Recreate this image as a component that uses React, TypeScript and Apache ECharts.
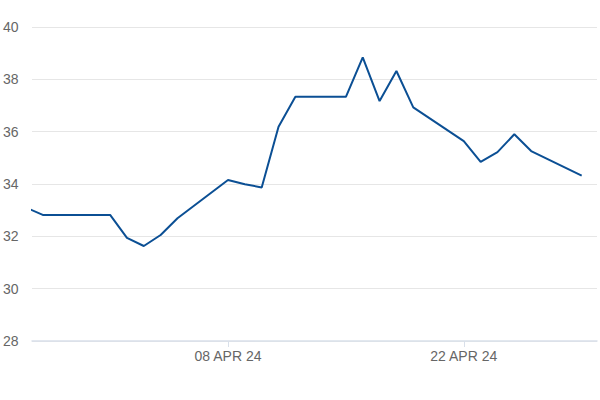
import React, { useEffect, useRef } from "react";
import * as echarts from "echarts";

const dates: [number, number, number][] = [
  [2024, 3, 27], [2024, 3, 28], [2024, 4, 1], [2024, 4, 2], [2024, 4, 3], [2024, 4, 4], [2024, 4, 5],
  [2024, 4, 8], [2024, 4, 9], [2024, 4, 10], [2024, 4, 11], [2024, 4, 12],
  [2024, 4, 15], [2024, 4, 16], [2024, 4, 17], [2024, 4, 18], [2024, 4, 19],
  [2024, 4, 22], [2024, 4, 23], [2024, 4, 24], [2024, 4, 25], [2024, 4, 26],
  [2024, 4, 29],
];
const values = [
  33.1, 32.82, 32.82, 31.94, 31.63, 32.05, 32.69,
  34.15, 33.99, 33.87, 36.19, 37.33,
  37.33, 38.84, 37.17, 38.32, 36.93,
  35.64, 34.85, 35.22, 35.9, 35.26,
  34.32,
];
const tickDates: [number, number, number][] = [[2024, 4, 8], [2024, 4, 22]];
const MONTHS = ["JAN", "FEB", "MAR", "APR", "MAY", "JUN", "JUL", "AUG", "SEP", "OCT", "NOV", "DEC"];

const ts = (d: [number, number, number], h = 0, m = 0) => new Date(d[0], d[1] - 1, d[2], h, m).getTime();

export default function App() {
  const ref = useRef<HTMLDivElement>(null);
  useEffect(() => {
    if (!ref.current) return;
    const chart = echarts.init(ref.current, null, { renderer: "svg" });
    const tickVals = tickDates.map((d) => ts(d));
    chart.setOption({
      animation: false,
      grid: { left: 30, right: 3, top: 27, bottom: 59 },
      xAxis: {
        type: "value",
        min: ts([2024, 3, 27], 8, 40),
        max: ts([2024, 4, 29], 21, 50),
        axisLine: { show: true, lineStyle: { color: "#d9e0ea", width: 1.5 } },
        axisTick: { show: true, customValues: tickVals, length: 6, lineStyle: { color: "#d9e0ea" } },
        axisLabel: {
          customValues: tickVals,
          color: "#666666",
          fontSize: 14,
          fontFamily: "Liberation Sans, Arial, sans-serif",
          margin: 8,
          formatter: (v: number) => {
            const d = new Date(v);
            const dd = String(d.getDate()).padStart(2, "0");
            return `${dd} ${MONTHS[d.getMonth()]} ${String(d.getFullYear()).slice(2)}`;
          },
        },
        splitLine: { show: false },
      },
      yAxis: {
        type: "value",
        min: 28,
        max: 40,
        interval: 2,
        axisLine: { show: false },
        axisTick: { show: false },
        axisLabel: {
          color: "#666666",
          fontSize: 14,
          fontFamily: "Liberation Sans, Arial, sans-serif",
          align: "left",
          margin: 29,
        },
        splitLine: { lineStyle: { color: "#e6e6e6", width: 1 } },
      },
      series: [
        {
          type: "line",
          data: dates.map((d, i) => [ts(d), values[i]]),
          showSymbol: false,
          symbol: "none",
          clip: true,
          lineStyle: { color: "#0b4f94", width: 2 },
        },
      ],
    });
    return () => chart.dispose();
  }, []);
  return <div ref={ref} style={{ width: 600, height: 400, position: "absolute", left: 0, top: 0 }} />;
}
